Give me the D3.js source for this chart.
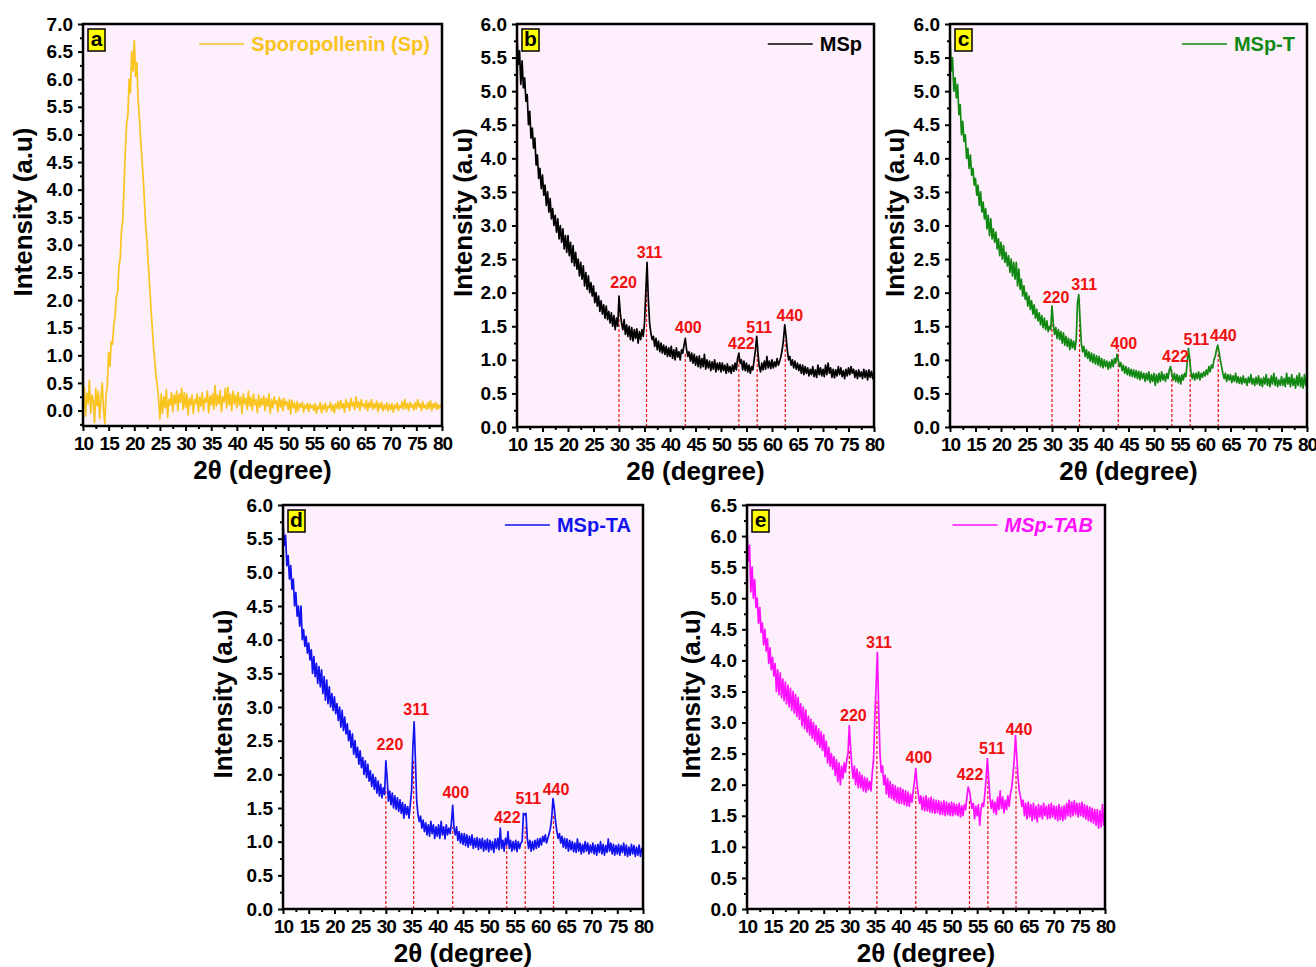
<!DOCTYPE html>
<html>
<head>
<meta charset="utf-8">
<style>
body { margin: 0; background: #fff; }
svg { font-family: "Liberation Sans", Arial, sans-serif; font-weight: bold; }
.tick line { stroke-width: 2; }
.domain { display: none; }
.frame { fill: none; stroke: #000; stroke-width: 2.5; }
.peak { stroke: #f01010; stroke-width: 1.2; stroke-dasharray: 3,2; }
.plabel { fill: #f01010; font-size: 16px; text-anchor: middle; }
</style>
</head>
<body>
<script src="https://d3js.org/d3.v7.min.js"></script>
<script>

// 2theta grid, 10..80 in 0.25 degree steps (281 points)
var angles = d3.range(10, 80.001, 0.25);

// a - Sporopollenin (Sp)
var sp = [
 0.05,0.42,-0.10,0.31,0.12,0.55,-0.05,0.28,0.18,-0.22,0.40,0.08,0.35,-0.15,0.22,0.50,0.02,-0.24,0.30,0.45,
 1.05,0.80,1.25,1.20,1.55,1.70,2.05,2.15,2.60,2.75,3.25,3.45,4.05,4.70,5.20,5.35,6.00,5.75,6.50,6.15,
 6.70,6.05,6.30,5.60,5.30,4.90,4.55,4.20,3.75,3.30,3.05,2.60,2.25,1.85,1.50,1.15,0.90,0.60,0.45,0.20,
 -0.15,0.30,-0.05,0.25,0.05,0.38,-0.12,0.20,0.10,0.32,-0.02,0.28,0.12,0.35,0.00,0.30,0.15,0.40,0.02,0.33,
 0.05,0.30,-0.08,0.22,0.10,0.28,-0.05,0.20,0.12,0.30,-0.02,0.25,0.08,0.32,0.00,0.22,0.15,0.35,-0.04,0.26,
 0.10,0.30,0.02,0.45,0.08,0.28,0.12,0.36,-0.02,0.25,0.15,0.40,0.05,0.42,0.10,0.30,0.00,0.35,0.12,0.28,
 0.05,0.33,0.10,0.25,-0.05,0.30,0.12,0.22,0.02,0.35,0.08,0.24,0.00,0.30,0.10,0.20,-0.04,0.28,0.06,0.22,
 0.10,0.26,0.00,0.22,0.08,0.30,-0.05,0.20,0.05,0.25,0.12,0.18,-0.02,0.24,0.06,0.20,0.00,0.22,0.10,0.16,
 0.02,0.20,-0.06,0.18,0.05,0.14,-0.04,0.16,0.00,0.12,0.06,0.15,-0.03,0.10,0.04,0.13,-0.02,0.12,0.05,0.10,
 0.00,0.12,-0.05,0.08,0.03,0.14,-0.04,0.10,0.02,0.13,-0.02,0.08,0.05,0.15,0.00,0.10,-0.04,0.12,0.04,0.16,
 0.02,0.18,0.05,0.12,-0.03,0.20,0.06,0.14,0.00,0.22,0.08,0.15,0.02,0.25,0.06,0.16,0.00,0.20,0.08,0.12,
 0.04,0.18,0.00,0.14,0.06,0.20,0.02,0.12,0.05,0.17,-0.02,0.13,0.04,0.15,0.00,0.10,0.03,0.14,-0.01,0.11,
 0.02,0.12,-0.03,0.10,0.04,0.14,0.00,0.09,0.05,0.16,0.02,0.20,0.04,0.12,0.00,0.15,0.06,0.11,0.01,0.14,
 0.03,0.20,0.06,0.12,0.00,0.16,0.05,0.10,0.02,0.14,0.04,0.18,0.00,0.12,0.05,0.15,0.02,0.11,0.04,0.10,
 0.06];

// b - MSp
var msp = [
 5.80,5.40,5.60,5.10,5.45,5.05,5.20,4.85,4.95,4.50,4.70,4.30,4.45,4.15,4.30,3.90,4.05,3.70,3.85,3.55,
 3.75,3.45,3.60,3.30,3.50,3.20,3.40,3.10,3.25,3.00,3.15,2.90,3.10,2.80,3.00,2.75,2.95,2.65,2.85,2.60,
 2.85,2.55,2.75,2.45,2.70,2.40,2.60,2.35,2.50,2.25,2.45,2.20,2.40,2.10,2.30,2.05,2.25,2.00,2.15,1.95,
 2.10,1.85,2.00,1.80,1.95,1.72,1.88,1.68,1.82,1.62,1.80,1.60,1.72,1.55,1.70,1.50,1.66,1.45,1.62,1.50,
 1.95,1.70,1.55,1.45,1.60,1.38,1.52,1.35,1.50,1.30,1.48,1.28,1.45,1.32,1.46,1.25,1.42,1.30,1.45,1.35,
 1.55,2.00,2.45,1.90,1.55,1.40,1.30,1.35,1.20,1.32,1.15,1.28,1.12,1.25,1.10,1.22,1.08,1.20,1.05,1.18,
 1.05,1.20,1.02,1.15,1.00,1.18,1.04,1.12,1.00,1.15,1.10,1.22,1.32,1.15,1.05,1.12,0.98,1.10,0.95,1.08,
 0.92,1.05,0.90,1.06,0.88,1.02,0.90,1.08,0.86,1.00,0.88,0.98,0.84,0.97,0.86,1.00,0.82,0.95,0.85,0.96,
 0.82,0.95,0.84,0.92,0.80,0.94,0.82,0.90,0.80,0.92,0.83,0.95,0.85,1.02,1.10,0.95,1.00,0.85,0.98,0.84,
 0.95,0.82,0.92,0.80,0.90,0.85,1.00,1.15,1.35,1.10,0.90,0.82,0.95,0.85,0.98,0.86,1.05,0.88,0.98,0.87,
 1.00,0.88,0.97,0.90,1.02,0.92,0.98,1.05,1.15,1.30,1.52,1.35,1.15,1.00,1.05,0.92,1.00,0.88,0.98,0.86,
 0.95,0.84,0.93,0.80,0.92,0.78,0.90,0.80,0.88,0.76,0.86,0.78,0.90,0.75,0.85,0.74,0.92,0.78,0.88,0.76,
 0.86,0.75,0.92,0.78,0.95,0.80,0.88,0.74,0.86,0.73,0.85,0.76,0.90,0.78,0.88,0.75,0.84,0.72,0.86,0.76,
 0.88,0.78,0.90,0.80,0.86,0.74,0.84,0.72,0.85,0.75,0.82,0.72,0.86,0.74,0.84,0.70,0.85,0.74,0.83,0.72,
 0.82];

// c - MSp-T
var mspT = [
 5.85,5.30,5.50,5.00,5.20,4.90,5.10,4.65,4.80,4.35,4.55,4.25,4.35,4.00,4.15,3.85,4.05,3.75,3.85,3.60,
 3.70,3.45,3.60,3.30,3.50,3.20,3.35,3.10,3.25,2.95,3.15,2.85,3.10,2.80,2.95,2.75,2.90,2.65,2.80,2.55,
 2.75,2.50,2.70,2.45,2.60,2.40,2.55,2.30,2.50,2.25,2.45,2.20,2.45,2.10,2.35,2.05,2.20,1.95,2.10,1.90,
 2.00,1.80,1.95,1.75,1.88,1.68,1.82,1.62,1.75,1.58,1.70,1.52,1.66,1.48,1.62,1.45,1.58,1.42,1.50,1.45,
 1.80,1.55,1.38,1.48,1.32,1.45,1.30,1.42,1.25,1.40,1.22,1.35,1.20,1.32,1.15,1.30,1.18,1.28,1.15,1.30,
 1.85,1.97,1.60,1.25,1.12,1.20,1.05,1.15,1.02,1.12,0.98,1.10,0.96,1.08,0.94,1.06,0.92,1.05,0.90,1.02,
 0.88,1.00,0.90,0.98,0.86,0.97,0.88,1.00,0.90,1.02,0.95,1.08,1.00,0.90,0.96,0.84,0.92,0.80,0.90,0.78,
 0.88,0.76,0.86,0.75,0.85,0.74,0.84,0.72,0.83,0.70,0.82,0.72,0.80,0.68,0.80,0.70,0.82,0.66,0.78,0.68,
 0.80,0.62,0.78,0.66,0.80,0.68,0.82,0.70,0.78,0.68,0.80,0.72,0.85,0.90,0.78,0.70,0.80,0.68,0.78,0.66,
 0.76,0.64,0.78,0.70,0.80,0.75,0.95,1.17,1.00,0.82,0.72,0.80,0.70,0.80,0.72,0.82,0.70,0.80,0.74,0.82,
 0.76,0.85,0.78,0.90,0.82,0.92,0.88,1.00,1.05,1.15,1.22,1.12,1.00,0.90,0.80,0.72,0.80,0.68,0.78,0.70,
 0.78,0.66,0.76,0.68,0.80,0.66,0.75,0.65,0.74,0.64,0.76,0.66,0.72,0.62,0.74,0.66,0.78,0.64,0.72,0.62,
 0.74,0.64,0.76,0.62,0.72,0.60,0.74,0.64,0.78,0.62,0.72,0.60,0.76,0.64,0.80,0.62,0.74,0.60,0.70,0.62,
 0.75,0.62,0.72,0.60,0.80,0.64,0.74,0.60,0.78,0.62,0.72,0.58,0.76,0.62,0.80,0.60,0.74,0.58,0.78,0.62,
 0.72];

// d - MSp-TA
var mspTA = [
 5.75,5.40,5.55,5.10,5.25,4.90,5.10,4.75,4.90,4.50,4.70,4.35,4.50,4.20,4.50,4.00,4.15,3.90,4.05,3.80,
 3.95,3.70,3.85,3.50,3.75,3.45,3.65,3.35,3.60,3.30,3.55,3.20,3.45,3.10,3.40,3.05,3.30,3.00,3.20,2.95,
 3.15,2.90,3.05,2.80,3.00,2.70,2.95,2.65,2.85,2.60,2.75,2.50,2.65,2.40,2.60,2.30,2.50,2.25,2.40,2.15,
 2.35,2.10,2.25,2.00,2.20,1.95,2.15,1.90,2.05,1.82,2.00,1.78,1.95,1.72,1.90,1.68,1.85,1.65,1.80,1.70,
 2.20,1.95,1.60,1.75,1.55,1.72,1.50,1.68,1.48,1.65,1.45,1.62,1.42,1.58,1.35,1.55,1.40,1.52,1.35,1.55,
 1.75,2.40,2.78,2.20,1.60,1.40,1.30,1.38,1.20,1.32,1.15,1.28,1.10,1.25,1.08,1.30,1.12,1.25,1.05,1.22,
 1.08,1.25,1.05,1.30,1.10,1.22,1.04,1.25,1.10,1.20,1.12,1.28,1.54,1.20,1.10,1.22,1.02,1.15,0.98,1.12,
 0.96,1.12,0.94,1.10,0.92,1.08,0.95,1.10,0.90,1.05,0.92,1.06,0.88,1.04,0.90,1.05,0.86,1.02,0.88,1.04,
 0.85,1.02,0.88,1.00,0.84,1.04,0.90,1.05,0.88,1.20,0.90,1.02,0.86,1.05,0.95,1.15,0.90,1.02,0.86,1.00,
 0.88,1.02,0.85,1.00,0.90,0.98,1.00,1.42,1.40,1.42,1.05,0.90,1.02,0.86,1.00,0.88,1.02,0.90,1.04,0.92,
 1.05,0.95,1.08,1.00,1.10,0.98,1.05,1.12,1.20,1.35,1.64,1.50,1.30,1.15,1.05,1.12,0.98,1.08,0.92,1.05,
 0.90,1.04,0.86,1.02,0.88,1.00,0.85,0.98,0.84,1.04,0.86,0.98,0.82,0.96,0.84,1.00,0.86,0.98,0.82,0.95,
 0.84,0.98,0.82,0.95,0.80,0.96,0.84,1.00,0.82,0.96,0.80,0.94,0.84,1.04,0.86,0.98,0.82,0.96,0.80,0.94,
 0.82,0.96,0.80,0.94,0.84,0.98,0.80,0.95,0.78,0.92,0.80,0.96,0.82,0.94,0.78,0.92,0.80,0.95,0.78,0.90,
 0.84];

// e - MSp-TAB
var mspTAB = [
 6.10,5.60,5.85,5.10,5.50,5.00,5.30,4.85,5.00,4.60,4.85,4.45,4.60,4.25,4.50,4.15,4.35,3.95,4.20,3.85,
 4.05,3.75,3.95,3.50,3.85,3.45,3.80,3.40,3.70,3.35,3.65,3.30,3.60,3.25,3.55,3.20,3.50,3.15,3.45,3.10,
 3.40,3.05,3.30,2.95,3.25,2.90,3.20,2.85,3.10,2.80,3.05,2.75,3.00,2.70,2.95,2.65,2.90,2.60,2.85,2.55,
 2.80,2.45,2.70,2.35,2.60,2.30,2.50,2.25,2.45,2.15,2.40,2.05,2.35,2.00,2.30,2.10,2.35,2.20,2.40,2.50,
 2.95,2.60,2.30,2.10,2.30,2.00,2.25,1.95,2.20,1.95,2.15,1.90,2.12,1.88,2.10,1.92,2.05,1.90,2.20,2.40,
 3.10,3.60,4.13,3.20,2.50,2.20,2.30,2.00,2.15,1.85,2.10,1.80,2.05,1.78,2.00,1.75,1.98,1.72,1.95,1.70,
 1.95,1.70,1.92,1.68,1.90,1.66,1.88,1.65,1.85,1.72,1.90,2.05,2.26,2.00,1.85,1.70,1.82,1.60,1.80,1.58,
 1.82,1.58,1.78,1.56,1.80,1.55,1.76,1.54,1.75,1.55,1.74,1.52,1.72,1.52,1.74,1.50,1.72,1.52,1.70,1.50,
 1.72,1.50,1.70,1.52,1.68,1.50,1.70,1.48,1.66,1.50,1.68,1.60,1.80,1.96,1.90,1.75,1.62,1.70,1.45,1.65,
 1.50,1.68,1.35,1.60,1.70,1.65,1.85,2.10,2.42,2.10,1.80,1.62,1.75,1.55,1.72,1.52,1.80,1.60,1.90,1.62,
 1.80,1.55,1.75,1.60,1.82,1.65,1.85,1.95,2.15,2.40,2.79,2.45,2.10,1.90,1.80,1.65,1.75,1.50,1.70,1.45,
 1.72,1.48,1.68,1.42,1.70,1.45,1.65,1.40,1.68,1.48,1.66,1.45,1.70,1.50,1.65,1.45,1.68,1.46,1.70,1.48,
 1.66,1.45,1.65,1.42,1.68,1.44,1.64,1.42,1.66,1.45,1.70,1.50,1.75,1.48,1.72,1.50,1.74,1.52,1.70,1.48,
 1.70,1.50,1.72,1.48,1.68,1.45,1.66,1.42,1.64,1.40,1.62,1.38,1.60,1.35,1.60,1.30,1.58,1.32,1.68,1.35,
 1.55];

// Miller indices of the spinel reflections and their 2theta positions
var hkl = ["220", "311", "400", "422", "511", "440"];
var peakAngles = [30.0, 35.4, 43.0, 53.5, 57.1, 62.6];

// top of each dashed marker (intensity) per sample
var markTopB = [1.76, 2.24, 1.09, 1.04, 1.22, 1.29];
var markTopC = [1.80, 1.90, 1.20, 0.85, 1.05, 1.15];
var markTopD = [1.79, 2.20, 1.22, 1.02, 1.22, 1.42];
var markTopE = [2.55, 3.36, 1.96, 1.75, 2.23, 2.28];

// where each hkl label sits (2theta, intensity) per sample
var labelXB = [30.9, 36.0, 43.6, 54.0, 57.5, 63.5];
var labelYB = [2.15, 2.60, 1.48, 1.25, 1.48, 1.66];
var labelXC = [30.8, 36.3, 44.1, 54.2, 58.3, 63.6];
var labelYC = [1.93, 2.12, 1.24, 1.05, 1.30, 1.37];
var labelXD = [30.8, 35.9, 43.6, 53.6, 57.7, 63.1];
var labelYD = [2.45, 2.97, 1.73, 1.36, 1.65, 1.78];
var labelXE = [30.8, 35.8, 43.6, 53.6, 57.9, 63.2];
var labelYE = [3.12, 4.29, 2.44, 2.17, 2.58, 2.89];

var panels = [
  {tag: "a", name: "Sporopollenin (Sp)", values: sp, color: "#f9c41e",
   box: [83, 24, 442, 426], yDomain: [-0.28, 7], yTitleX: 23},
  {tag: "b", name: "MSp", values: msp, color: "#000000",
   box: [517, 24, 874, 427], yDomain: [0, 6], yTitleX: 463,
   markTop: markTopB, labelX: labelXB, labelY: labelYB},
  {tag: "c", name: "MSp-T", values: mspT, color: "#118811",
   box: [950, 24, 1307, 427], yDomain: [0, 6], yTitleX: 895,
   markTop: markTopC, labelX: labelXC, labelY: labelYC},
  {tag: "d", name: "MSp-TA", values: mspTA, color: "#1212ee",
   box: [283, 505, 643, 909], yDomain: [0, 6], yTitleX: 223,
   markTop: markTopD, labelX: labelXD, labelY: labelYD},
  {tag: "e", name: "MSp-TAB", values: mspTAB, color: "#ff10ff", italic: true,
   box: [747, 505, 1105, 909], yDomain: [0, 6.5], yTitleX: 691,
   markTop: markTopE, labelX: labelXE, labelY: labelYE}
];

var svg = d3.select("body").append("svg")
    .attr("width", 1316)
    .attr("height", 967);

panels.forEach(function(p, k) {
  var L = p.box[0], T = p.box[1], R = p.box[2], B = p.box[3];
  var x = d3.scaleLinear().domain([10, 80]).range([L, R]);
  var y = d3.scaleLinear().domain(p.yDomain).range([B, T]);
  var g = svg.append("g").attr("class", "panel");

  g.append("rect")
      .attr("x", L).attr("y", T)
      .attr("width", R - L).attr("height", B - T)
      .attr("fill", "#fdeffc");

  g.append("clipPath").attr("id", "clip" + k)
    .append("rect")
      .attr("x", L).attr("y", T)
      .attr("width", R - L).attr("height", B - T);

  // peak markers
  if (p.markTop) {
    g.selectAll(".peak")
        .data(peakAngles)
        .enter().append("line")
        .attr("class", "peak")
        .attr("x1", function(d) { return x(d); })
        .attr("x2", function(d) { return x(d); })
        .attr("y1", y(0))
        .attr("y2", function(d, i) { return y(p.markTop[i]); });
  }

  var line = d3.line()
      .x(function(d, i) { return x(angles[i]); })
      .y(function(d) { return y(d); });

  g.append("path")
      .datum(p.values)
      .attr("clip-path", "url(#clip" + k + ")")
      .attr("fill", "none")
      .attr("stroke", p.color)
      .attr("stroke-width", 1.7)
      .attr("stroke-linejoin", "round")
      .attr("d", line);

  if (p.markTop) {
    g.selectAll(".plabel")
        .data(hkl)
        .enter().append("text")
        .attr("class", "plabel")
        .attr("x", function(d, i) { return x(p.labelX[i]); })
        .attr("y", function(d, i) { return y(p.labelY[i]); })
        .attr("dy", "0.36em")
        .text(function(d) { return d; });
  }

  // axes
  var yMajor = d3.range(0, p.yDomain[1] + 0.01, 0.5);
  var yMinor = d3.range(-0.25, p.yDomain[1], 0.5).filter(function(v) { return v >= p.yDomain[0]; });

  g.append("g")
      .attr("transform", "translate(" + L + ",0)")
      .call(d3.axisLeft(y).tickValues(yMinor).tickSize(3).tickFormat(""));

  g.append("g")
      .attr("transform", "translate(" + L + ",0)")
      .call(d3.axisLeft(y).tickValues(yMajor).tickSize(5).tickPadding(5).tickFormat(d3.format(".1f")))
      .attr("font-size", 19).attr("font-family", null);

  g.append("g")
      .attr("transform", "translate(0," + B + ")")
      .call(d3.axisBottom(x).tickValues(d3.range(12.5, 80, 5)).tickSize(3).tickFormat(""));

  g.append("g")
      .attr("transform", "translate(0," + B + ")")
      .call(d3.axisBottom(x).tickValues(d3.range(10, 81, 5)).tickSize(5).tickPadding(6))
      .attr("font-size", 19).attr("font-family", null)
      .attr("letter-spacing", -1);

  g.append("rect")
      .attr("class", "frame")
      .attr("x", L).attr("y", T)
      .attr("width", R - L).attr("height", B - T);

  // titles
  g.append("text")
      .attr("transform", "translate(" + p.yTitleX + "," + ((T + B) / 2 - 13) + ") rotate(-90)")
      .attr("text-anchor", "middle")
      .attr("dy", "0.35em")
      .attr("font-size", 26)
      .text("Intensity (a.u)");

  g.append("text")
      .attr("x", (L + R) / 2)
      .attr("y", B + 53)
      .attr("text-anchor", "middle")
      .attr("font-size", 26)
      .text("2\u03B8 (degree)");

  // panel tag
  g.append("rect")
      .attr("x", L + 5).attr("y", T + 5)
      .attr("width", 17).attr("height", 22)
      .attr("fill", "#ffff00")
      .attr("stroke", "#000")
      .attr("stroke-width", 1.5);

  g.append("text")
      .attr("x", L + 13.5).attr("y", T + 22)
      .attr("text-anchor", "middle")
      .attr("font-size", 21)
      .text(p.tag);

  // legend
  var lt = g.append("text")
      .attr("x", R - 12)
      .attr("y", T + 27)
      .attr("text-anchor", "end")
      .attr("font-size", 20)
      .attr("fill", p.color)
      .attr("font-style", p.italic ? "italic" : null)
      .text(p.name);
  var tw = lt.node().getComputedTextLength();
  g.append("line")
      .attr("x1", R - 12 - tw - 52).attr("x2", R - 12 - tw - 7)
      .attr("y1", T + 20).attr("y2", T + 20)
      .attr("stroke", p.color)
      .attr("stroke-width", 1.5);
});

</script>
</body>
</html>
